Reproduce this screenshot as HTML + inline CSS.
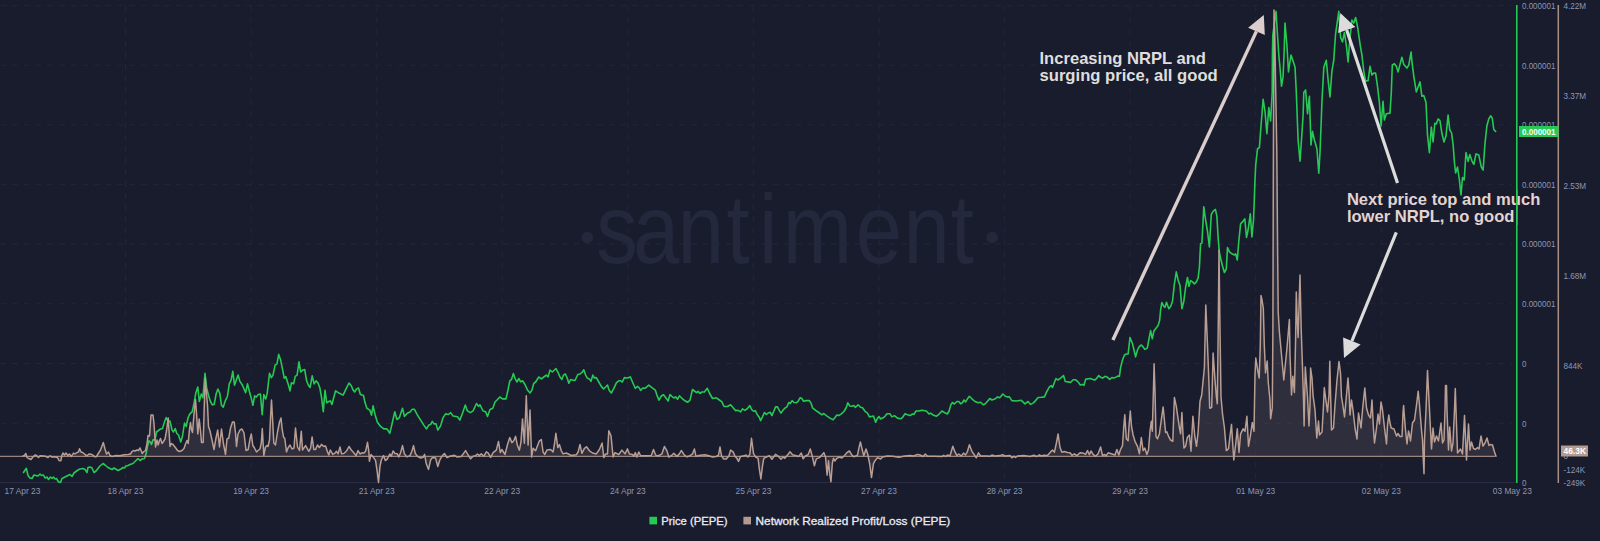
<!DOCTYPE html>
<html lang="en"><head><meta charset="utf-8"><title>Santiment chart - PEPE Price vs Network Realized Profit/Loss</title>
<style>html,body{margin:0;padding:0;background:#191c2d;overflow:hidden}body{width:1600px;height:541px}svg{display:block}text{font-family:"Liberation Sans",Arial,Helvetica,sans-serif}</style>
</head><body>
<svg width="1600" height="541" viewBox="0 0 1600 541">
<rect width="1600" height="541" fill="#191c2d"/>
<g fill="#24283d">
<circle cx="587.3" cy="237.5" r="5.8"/><circle cx="992.2" cy="237.5" r="5.8"/>
<text transform="scale(0.84 1)" x="709.9 753.5 806.9 864.9 903.5 931.9 1018.7 1075.6 1131.9" y="263.4" font-size="99">santiment</text>
</g>
<g stroke="#22263a" stroke-width="1" stroke-dasharray="5.7 6" fill="none">
<line x1="0.5" y1="5.6" x2="1512" y2="5.6"/>
<line x1="0.5" y1="65.2" x2="1512" y2="65.2"/>
<line x1="0.5" y1="124.8" x2="1512" y2="124.8"/>
<line x1="0.5" y1="184.4" x2="1512" y2="184.4"/>
<line x1="0.5" y1="244.0" x2="1512" y2="244.0"/>
<line x1="0.5" y1="303.8" x2="1512" y2="303.8"/>
<line x1="0.5" y1="363.5" x2="1512" y2="363.5"/>
<line x1="0.5" y1="423.3" x2="1512" y2="423.3"/>
<line x1="125.5" y1="5.6" x2="125.5" y2="482.6"/>
<line x1="251.1" y1="5.6" x2="251.1" y2="482.6"/>
<line x1="376.7" y1="5.6" x2="376.7" y2="482.6"/>
<line x1="502.2" y1="5.6" x2="502.2" y2="482.6"/>
<line x1="627.8" y1="5.6" x2="627.8" y2="482.6"/>
<line x1="753.4" y1="5.6" x2="753.4" y2="482.6"/>
<line x1="879.0" y1="5.6" x2="879.0" y2="482.6"/>
<line x1="1004.6" y1="5.6" x2="1004.6" y2="482.6"/>
<line x1="1130.1" y1="5.6" x2="1130.1" y2="482.6"/>
<line x1="1255.7" y1="5.6" x2="1255.7" y2="482.6"/>
<line x1="1381.3" y1="5.6" x2="1381.3" y2="482.6"/>
</g>
<line x1="0" y1="482.6" x2="1517" y2="482.6" stroke="#2a2e44" stroke-width="1"/>
<polyline points="23.5,472.5 26.3,468.3 28.0,475.5 30.0,478.0 32.0,478.5 34.0,475.0 36.0,475.5 38.0,476.0 40.0,474.0 41.5,475.5 43.5,475.0 45.0,478.0 47.0,477.0 48.5,479.5 50.5,477.0 52.0,478.5 53.5,477.0 55.0,479.0 56.5,478.5 58.5,482.0 60.5,482.5 62.0,478.5 64.0,477.5 68.0,475.5 70.0,474.5 72.0,476.5 74.0,473.0 78.0,470.0 80.0,469.0 83.0,468.5 85.0,469.5 87.0,472.5 88.0,467.5 90.0,467.0 92.0,468.0 94.0,472.5 96.0,471.0 100.0,466.0 103.0,463.5 105.0,465.0 108.0,467.5 112.0,469.5 114.0,468.0 118.0,470.5 121.0,469.0 123.0,467.5 124.5,468.0 126.0,466.0 128.0,465.5 130.0,464.5 133.0,463.5 136.0,460.5 138.0,458.5 140.0,460.5 142.0,459.0 144.5,458.5 146.0,454.0 147.5,446.0 149.0,440.8 150.5,442.3 151.5,444.5 153.0,439.8 155.0,440.0 156.5,432.0 158.5,430.5 160.5,429.0 162.5,428.5 164.5,422.0 166.2,417.5 168.0,421.5 170.0,421.0 172.0,430.0 173.5,432.0 175.2,428.5 176.8,433.5 178.5,435.0 180.8,442.0 182.5,436.0 184.5,423.0 186.2,426.5 188.0,418.0 189.7,414.1 192.2,411.6 194.1,402.8 195.9,392.7 197.8,387.1 199.3,401.5 201.3,394.0 202.9,397.8 205.0,373.3 206.6,387.7 208.5,395.3 210.4,401.5 212.3,404.9 214.2,404.3 216.1,394.0 217.9,389.0 219.8,393.4 221.5,405.3 223.2,407.2 225.5,400.3 227.4,396.5 229.3,383.9 231.1,380.2 232.8,371.4 234.5,385.2 236.2,380.2 238.1,375.1 239.9,381.4 242.5,385.2 245.6,392.7 247.5,383.9 249.4,391.5 251.3,398.4 252.9,405.3 254.6,395.9 256.3,397.1 258.2,394.6 260.4,394.0 262.2,414.7 263.8,394.6 265.7,399.0 267.2,393.4 269.5,373.3 271.4,377.7 273.0,375.1 275.1,365.1 277.0,363.8 278.7,354.4 280.5,359.4 282.7,370.1 284.3,378.3 285.8,376.6 288.1,383.9 290.0,390.9 291.5,382.7 293.6,383.9 295.2,376.4 297.1,375.1 299.0,361.9 300.7,372.0 302.8,370.1 304.7,369.5 306.6,380.8 308.4,385.2 310.1,387.5 312.2,375.8 314.1,383.9 316.0,380.8 317.9,382.9 319.8,387.7 321.6,397.8 323.3,411.6 325.0,390.2 326.7,402.8 328.6,401.5 330.4,400.9 331.9,404.5 335.6,390.8 339.4,393.3 343.1,395.1 346.3,388.3 349.0,383.0 351.3,385.8 352.8,389.5 354.6,392.0 356.6,388.9 358.5,388.0 360.4,394.5 363.5,395.5 365.0,402.6 366.9,408.3 369.8,410.1 371.5,415.1 373.1,405.8 375.0,414.5 377.3,422.0 380.0,425.8 383.8,428.9 386.9,428.9 389.8,433.3 391.9,424.5 394.8,411.8 396.9,419.5 399.4,417.6 402.5,408.3 404.4,416.4 407.3,413.3 410.0,412.0 412.3,409.3 414.4,409.3 417.5,415.1 420.6,420.1 423.8,425.1 426.5,428.9 428.8,425.1 430.6,424.5 432.3,421.4 434.0,423.9 436.0,423.9 437.8,430.1 440.6,425.8 443.1,417.6 445.6,413.9 448.5,414.5 450.6,412.6 453.1,416.0 457.5,416.8 459.8,420.1 462.5,413.3 465.3,405.1 467.3,410.8 470.3,412.6 473.1,410.8 476.5,403.5 478.5,406.4 480.0,404.8 483.1,411.0 485.6,411.8 487.5,416.4 490.0,409.5 492.8,408.3 495.0,402.0 497.5,399.5 499.8,397.0 502.5,398.9 506.0,398.9 508.1,389.5 509.8,380.8 511.5,379.5 513.4,373.5 515.0,378.3 516.9,382.0 518.8,378.5 520.6,381.8 522.5,380.8 525.0,384.5 527.5,390.1 530.0,393.0 531.9,390.1 533.8,383.3 535.6,382.0 538.8,377.0 541.3,378.9 543.8,377.0 546.3,375.1 548.1,376.8 550.0,370.1 552.3,372.0 556.0,368.5 558.1,372.6 560.0,377.0 561.9,379.5 563.5,375.1 565.3,373.9 567.3,378.3 568.8,383.3 570.6,379.5 572.5,380.1 575.0,380.5 577.8,374.5 580.0,373.9 581.9,372.6 583.8,369.8 585.6,375.1 587.5,378.3 589.4,378.9 591.0,381.4 592.8,375.1 594.4,378.0 596.3,377.6 598.8,382.0 601.3,386.4 603.5,388.9 605.6,387.0 607.5,385.1 609.0,390.1 611.3,393.0 613.8,388.3 616.5,382.6 618.8,380.8 620.6,380.8 622.3,382.0 624.4,377.6 626.9,378.0 628.8,377.6 630.3,376.8 632.5,382.0 635.3,388.3 637.5,386.4 639.4,388.0 640.6,390.5 642.8,388.0 645.0,388.3 648.8,385.1 651.9,387.6 655.3,390.1 656.9,395.1 659.0,400.1 661.3,396.0 663.5,394.8 665.6,397.6 668.1,401.0 670.0,394.5 671.9,396.4 673.8,398.0 675.6,396.8 677.5,399.3 679.4,395.8 681.9,398.3 685.0,400.8 687.5,402.3 690.0,400.1 692.5,389.5 694.4,391.0 696.5,392.6 698.1,391.4 700.0,393.5 701.9,392.0 704.4,392.0 707.3,388.3 709.4,393.0 712.5,398.5 716.3,397.8 719.4,400.0 721.9,401.9 724.0,406.5 727.5,406.5 730.6,404.8 733.1,407.8 735.6,410.6 738.1,410.3 740.6,411.9 742.5,408.8 744.8,410.3 747.5,408.5 749.8,405.6 751.9,409.8 753.8,411.3 755.3,410.6 757.5,415.0 759.4,417.5 760.6,420.6 762.5,416.9 764.4,412.5 766.3,414.4 768.1,413.1 770.3,412.3 771.9,415.6 773.8,411.3 775.6,406.9 777.5,406.9 779.4,410.6 781.0,413.1 783.1,410.0 785.0,408.1 786.9,406.9 788.8,402.5 790.3,403.5 792.1,400.6 794.0,402.5 796.3,402.8 798.1,401.3 800.0,397.8 801.9,398.5 803.5,401.3 806.3,400.6 809.4,400.6 811.0,403.1 812.5,407.8 815.6,410.3 818.8,412.5 821.9,414.8 823.8,413.5 826.3,415.6 830.0,418.1 833.1,419.8 835.0,417.5 836.9,415.0 838.8,415.6 841.3,413.8 844.0,411.5 846.3,407.5 847.8,402.8 849.8,406.0 851.9,406.3 853.8,405.6 855.3,407.3 858.1,404.8 860.6,407.3 862.5,407.8 865.0,411.3 867.5,413.1 869.4,416.9 871.3,416.5 873.5,416.0 875.6,422.3 877.5,418.1 879.0,416.5 880.6,419.0 883.1,417.8 885.0,416.3 886.9,413.8 890.0,413.8 891.9,416.9 894.4,415.6 897.5,418.1 900.6,418.8 902.5,417.5 905.0,413.8 907.5,414.8 910.0,415.6 912.5,414.0 914.0,414.4 916.0,411.0 918.8,411.0 921.9,410.3 926.3,411.0 929.0,414.0 930.6,413.1 933.1,415.0 936.3,416.3 939.4,413.8 941.9,411.0 944.4,412.5 947.3,414.0 949.0,411.3 951.0,404.4 952.5,402.5 954.4,404.0 956.9,401.5 958.8,401.5 960.6,403.8 962.5,402.5 964.0,400.0 965.6,401.9 967.5,398.8 969.4,396.3 971.9,398.8 975.0,401.5 978.1,402.8 980.6,402.3 983.1,404.8 985.0,404.0 987.5,401.3 989.8,398.5 991.9,400.0 995.0,399.0 997.5,396.9 999.4,397.8 1001.0,396.3 1002.8,394.0 1005.0,396.0 1006.9,396.9 1009.4,396.9 1011.9,400.6 1016.3,401.0 1021.3,400.3 1025.0,403.8 1028.1,401.5 1030.6,404.4 1033.1,403.1 1035.6,400.6 1038.1,397.5 1041.3,397.3 1044.4,396.9 1046.9,391.3 1049.4,386.9 1051.3,385.6 1052.5,387.5 1054.4,382.5 1056.0,378.5 1057.8,380.0 1060.6,378.1 1063.5,375.6 1065.3,381.5 1068.1,381.9 1070.6,382.5 1073.1,379.8 1075.6,379.8 1078.1,381.9 1080.3,385.0 1082.3,384.4 1084.0,385.3 1085.6,379.4 1088.1,378.8 1090.6,378.5 1092.5,379.4 1095.0,380.0 1096.9,378.1 1098.8,375.6 1100.6,377.3 1102.5,378.1 1105.0,376.3 1107.5,377.3 1109.8,379.4 1111.9,377.5 1113.8,378.1 1116.3,376.9 1118.1,376.0 1119.4,376.3 1120.6,367.5 1122.3,360.6 1124.4,355.0 1126.3,354.0 1128.1,354.0 1130.0,337.5 1132.5,343.8 1134.0,350.0 1135.6,356.9 1137.5,350.0 1139.4,346.3 1141.3,345.0 1143.1,346.9 1145.0,349.4 1147.3,348.1 1148.8,340.0 1150.6,330.6 1152.3,338.8 1153.8,331.3 1155.6,328.8 1158.1,325.6 1159.6,320.6 1160.6,310.0 1161.9,302.5 1163.8,306.3 1165.0,307.3 1166.5,302.3 1168.8,308.8 1170.6,306.5 1172.5,301.3 1174.4,283.8 1176.3,271.9 1178.1,280.0 1180.0,285.6 1181.9,308.8 1183.8,301.3 1185.6,287.5 1187.5,277.5 1189.0,286.3 1190.6,280.6 1192.5,281.9 1194.4,284.0 1196.3,281.9 1198.1,278.1 1199.4,267.5 1200.0,255.0 1200.6,243.8 1201.9,243.1 1203.8,206.9 1205.6,220.0 1207.5,231.3 1209.4,246.9 1211.3,214.4 1213.1,211.3 1215.4,209.4 1216.9,216.3 1218.1,237.5 1219.4,252.5 1220.8,259.0 1222.5,266.0 1224.4,272.5 1226.3,269.0 1227.5,247.5 1229.4,251.9 1231.9,253.8 1234.4,255.0 1235.6,253.8 1237.3,260.0 1238.8,241.3 1240.6,223.8 1242.5,221.9 1244.8,218.8 1246.5,237.5 1248.1,230.0 1250.3,213.8 1251.9,236.9 1253.5,220.0 1254.3,200.0 1254.9,182.0 1255.7,165.0 1257.5,148.8 1259.4,147.5 1260.6,131.3 1261.9,115.0 1263.1,99.4 1265.0,111.3 1266.9,133.8 1268.8,107.5 1270.6,121.0 1272.2,92.5 1272.4,55.0 1272.8,35.0 1276.0,11.3 1277.5,35.0 1278.8,55.0 1280.0,67.5 1281.5,86.3 1283.1,76.3 1284.2,50.0 1285.0,23.1 1286.9,45.0 1288.5,72.0 1289.6,64.0 1291.0,55.0 1293.1,61.3 1295.0,66.9 1296.3,92.5 1298.1,140.0 1300.0,161.3 1301.9,133.8 1303.1,115.0 1303.8,92.5 1305.6,90.0 1307.5,113.8 1309.4,96.3 1311.0,145.0 1312.5,131.3 1314.4,140.0 1316.9,148.8 1318.8,173.1 1320.0,152.5 1321.2,122.0 1321.9,102.5 1323.8,67.5 1326.3,60.3 1328.1,80.0 1330.0,96.9 1331.9,71.3 1333.8,60.0 1334.6,47.5 1335.6,33.8 1338.8,11.3 1340.6,37.5 1342.5,41.9 1344.4,32.5 1346.3,45.0 1348.1,61.9 1350.0,37.5 1351.9,20.0 1353.8,23.1 1355.6,17.5 1357.5,26.3 1360.0,43.8 1361.9,55.0 1363.8,71.3 1365.6,81.3 1368.1,80.6 1370.0,66.3 1371.9,75.0 1373.8,73.1 1375.6,73.1 1377.5,86.3 1379.4,102.5 1381.1,126.0 1383.0,101.3 1384.4,120.0 1386.3,113.8 1390.0,113.1 1391.3,92.5 1392.3,65.0 1394.4,63.8 1396.3,66.3 1398.1,71.9 1400.0,64.4 1401.9,57.2 1403.8,64.4 1406.9,68.1 1408.8,65.0 1411.1,52.0 1411.9,61.3 1413.8,76.3 1416.3,91.9 1418.1,86.9 1420.0,81.9 1421.9,96.3 1423.8,95.6 1426.0,102.5 1427.5,135.0 1429.4,152.6 1431.3,127.0 1433.1,142.0 1434.8,123.3 1436.3,123.9 1438.1,118.9 1440.0,120.8 1441.9,133.3 1444.0,142.0 1446.0,135.8 1448.1,115.1 1449.8,130.1 1451.5,132.6 1453.1,144.5 1454.4,162.0 1455.6,173.0 1457.5,167.0 1459.4,180.0 1461.0,195.0 1462.5,177.5 1464.2,180.0 1465.2,164.5 1466.0,152.6 1468.1,161.4 1469.8,154.5 1471.9,160.8 1473.8,164.5 1476.0,153.9 1478.8,155.1 1481.3,167.0 1483.1,170.1 1485.0,143.3 1486.9,125.8 1488.8,118.9 1490.6,115.8 1492.3,118.3 1493.8,129.5 1495.6,131.4" fill="none" stroke="#26c953" stroke-width="1.6" stroke-linejoin="round" stroke-linecap="round"/>
<polygon points="23.0,456.3 23.0,456.0 24.5,455.5 25.8,453.5 27.0,457.5 28.5,458.5 30.0,459.0 31.0,459.5 33.0,457.0 35.0,455.0 36.5,455.5 38.5,457.5 40.0,455.8 44.0,456.0 46.0,456.5 48.0,457.5 50.0,455.8 52.0,457.0 55.0,456.8 57.5,457.5 59.0,460.5 60.8,460.8 62.0,455.0 63.0,453.0 64.5,455.0 66.0,453.0 68.0,455.5 69.5,454.0 71.5,456.5 73.5,453.0 75.0,454.0 77.0,452.5 78.5,452.0 79.5,448.8 81.0,452.0 83.0,452.8 85.0,454.5 87.0,455.8 89.0,454.0 92.0,454.5 95.0,456.8 96.5,456.5 98.0,454.0 100.5,450.0 103.3,442.5 105.0,449.0 106.5,454.0 108.5,452.0 110.0,455.5 112.0,456.5 116.0,455.5 120.0,455.8 124.0,454.8 128.0,454.5 130.5,454.0 132.0,451.5 133.5,450.5 135.0,451.0 137.0,450.0 138.5,450.5 140.0,448.0 141.5,451.5 142.2,453.5 144.0,451.5 145.5,450.5 147.0,444.0 148.0,435.5 149.5,436.0 151.0,415.0 153.0,415.0 154.0,424.0 155.5,447.0 157.0,440.0 158.2,445.0 159.5,440.5 160.5,438.5 162.0,443.5 163.5,441.5 165.0,439.0 166.5,431.0 168.2,418.0 169.2,434.0 170.0,446.5 171.2,443.5 173.0,444.5 175.0,447.0 177.5,450.5 179.5,451.5 182.0,450.5 184.0,448.5 185.5,444.0 187.0,440.5 188.2,443.5 189.5,429.0 190.5,422.5 191.5,430.0 192.5,432.5 194.0,414.0 195.5,399.5 196.5,413.0 197.8,434.0 199.2,419.0 200.5,431.0 201.5,442.5 203.2,442.5 204.3,405.0 205.2,378.0 206.3,392.0 207.5,405.0 208.5,426.5 210.0,431.0 212.0,440.0 214.0,449.5 216.0,438.0 217.7,430.0 219.5,447.0 221.5,429.0 223.5,444.0 225.5,454.5 227.0,439.0 228.8,438.0 230.5,428.0 232.5,422.0 234.2,422.0 235.5,433.0 236.5,446.5 238.0,434.0 240.0,430.0 242.0,429.0 244.0,433.0 246.0,450.5 248.2,449.5 250.0,439.0 251.3,434.0 252.8,445.5 254.5,448.0 256.5,452.0 258.0,450.5 260.0,449.0 261.3,443.0 262.3,428.5 263.8,455.5 265.5,447.0 267.0,445.5 268.0,446.5 269.5,440.0 270.5,418.0 271.5,400.0 272.5,418.0 273.8,443.0 275.5,445.0 277.5,432.0 279.5,422.0 281.0,418.0 282.0,428.0 283.5,437.0 284.8,438.5 286.5,452.0 288.0,448.0 290.0,445.0 292.0,449.0 294.0,448.0 295.5,428.0 297.5,447.0 299.5,450.5 301.3,431.3 302.5,450.0 305.6,445.6 308.8,451.3 310.6,448.1 312.1,436.9 313.8,449.4 315.6,449.4 317.5,445.0 319.4,447.5 321.5,444.4 323.5,446.3 325.6,446.0 327.5,451.9 328.8,455.0 330.3,450.0 332.8,454.4 335.0,453.1 336.5,451.3 338.1,453.8 340.0,446.9 341.6,453.8 343.8,453.5 346.3,451.3 349.0,446.5 351.3,450.0 353.8,452.8 356.0,455.6 358.1,450.6 360.0,454.0 361.9,452.8 363.8,453.1 365.6,451.3 367.5,442.3 368.8,451.3 369.4,461.3 371.0,454.4 373.1,456.9 375.6,460.6 377.3,472.5 378.5,482.5 380.0,466.3 381.3,460.0 383.5,455.6 385.3,460.6 387.5,458.8 389.8,454.0 391.3,456.3 393.1,451.0 395.0,453.5 397.3,453.8 398.8,456.9 400.6,452.8 402.5,445.6 404.4,453.8 406.9,456.9 410.0,455.6 411.9,451.3 413.5,445.6 415.3,453.5 417.5,456.3 420.6,458.1 423.1,457.3 424.6,454.4 426.3,463.8 428.5,469.4 430.6,460.0 432.5,457.5 435.6,458.1 437.8,466.5 439.8,460.0 441.9,456.3 444.4,453.5 446.9,457.5 450.0,456.3 454.4,455.3 456.9,456.9 461.3,456.5 463.8,453.1 465.6,450.6 468.1,455.0 470.6,458.8 473.1,456.3 475.6,455.6 477.5,454.0 479.4,455.6 481.3,453.8 483.8,456.3 486.3,451.9 488.1,452.8 490.6,457.3 493.1,452.6 496.3,450.1 498.5,441.4 500.3,452.6 501.9,449.5 505.0,454.5 507.5,444.5 509.8,437.6 511.9,442.6 513.8,440.8 515.6,436.4 517.5,445.8 519.4,450.1 521.0,442.0 522.5,418.9 524.4,443.3 526.3,395.8 528.1,445.1 530.0,410.1 531.6,457.0 533.1,448.3 535.6,450.8 537.5,445.8 539.4,440.8 541.3,439.5 543.1,452.0 544.8,454.5 546.9,450.1 550.6,449.5 553.1,452.0 554.4,444.5 555.9,433.3 557.8,447.6 559.4,444.5 561.3,450.8 563.1,453.9 566.3,453.0 569.4,454.5 571.3,455.5 576.3,454.8 578.1,452.0 580.0,444.5 581.9,453.3 584.4,448.3 586.5,446.8 589.4,450.8 592.5,453.0 596.3,453.9 599.4,449.5 602.1,443.0 603.8,457.6 605.6,453.9 607.5,453.9 608.8,430.8 611.0,435.8 613.1,457.0 615.0,452.6 618.8,454.5 621.9,450.1 625.0,453.9 627.5,448.9 629.4,453.9 632.5,454.5 633.8,456.4 635.3,452.6 636.9,457.0 638.8,452.0 640.6,455.8 645.0,455.8 651.3,455.5 653.5,449.5 655.6,455.1 658.1,456.0 661.9,453.9 664.4,446.4 666.9,450.8 668.8,457.0 671.3,455.8 673.8,453.3 676.9,456.4 679.4,453.9 681.3,450.5 684.4,455.1 686.9,456.8 690.0,455.6 692.5,453.9 694.4,448.9 696.0,456.4 698.8,455.5 702.5,455.1 705.0,454.8 708.8,455.8 712.5,457.0 716.3,456.4 718.5,455.1 720.0,447.0 721.5,455.8 723.5,458.9 726.3,458.9 729.0,455.8 730.6,450.1 733.1,451.8 735.0,456.4 736.9,458.3 738.5,461.4 740.6,456.4 743.8,455.8 746.0,455.1 747.8,457.0 749.8,454.5 751.5,438.3 753.5,453.3 755.6,457.0 758.1,458.3 759.4,469.5 760.9,478.9 762.5,465.8 763.8,458.3 766.3,457.0 769.4,455.8 771.9,459.3 775.6,454.3 778.1,456.0 781.0,459.3 783.1,457.0 784.8,458.3 787.5,455.1 790.0,451.8 792.5,454.8 796.3,455.8 798.8,456.4 801.3,453.0 803.1,458.9 805.6,455.8 808.1,454.8 810.3,448.9 812.3,456.4 814.4,465.8 816.3,458.9 819.4,457.6 821.9,455.1 823.8,452.6 825.6,457.6 827.1,475.1 828.5,460.8 829.8,474.5 831.0,481.8 832.3,463.3 833.5,458.3 834.8,461.0 836.9,458.3 839.4,457.0 841.9,458.0 844.4,455.8 846.9,452.6 849.4,451.0 851.9,455.1 853.8,456.8 857.5,455.1 859.0,447.6 860.4,442.0 862.3,450.1 863.8,455.8 866.0,448.9 867.8,454.5 869.8,464.5 871.5,477.6 873.5,463.3 875.0,460.8 877.5,457.6 880.6,459.0 882.5,456.9 887.5,456.0 892.5,456.3 898.8,457.3 905.0,456.0 910.0,455.6 913.8,456.0 917.5,454.4 920.0,455.0 923.1,456.5 925.3,454.0 927.5,456.3 933.8,456.3 941.9,456.5 943.8,455.3 945.6,456.5 947.5,455.0 950.0,456.0 952.8,446.3 955.0,451.9 956.9,455.6 958.8,454.0 961.3,456.0 963.5,453.1 965.6,455.0 967.5,451.3 969.4,444.8 971.9,451.3 974.4,455.0 976.3,457.8 978.5,452.8 980.6,456.0 986.3,456.0 990.0,456.3 991.9,455.0 995.0,456.0 1000.0,455.6 1002.5,454.8 1005.0,456.0 1010.0,455.6 1011.9,457.8 1013.8,456.3 1015.6,457.5 1017.5,456.0 1023.8,455.6 1030.0,456.5 1033.8,455.3 1036.9,456.5 1039.4,454.8 1041.3,456.0 1043.8,455.3 1047.5,455.6 1050.6,451.9 1052.5,450.0 1054.4,452.3 1056.5,442.5 1058.1,434.0 1060.0,447.5 1061.9,452.3 1064.4,451.5 1067.5,452.5 1070.0,452.8 1071.9,455.3 1074.4,453.8 1076.9,455.6 1080.0,452.8 1083.1,453.1 1085.6,454.4 1087.5,450.6 1089.4,454.8 1091.0,451.0 1093.1,454.4 1095.6,456.3 1098.1,453.8 1100.6,446.9 1102.5,455.6 1104.4,454.4 1106.0,456.0 1108.1,452.8 1111.3,453.8 1115.0,455.0 1116.9,449.4 1118.8,455.0 1120.3,450.0 1122.5,445.6 1123.8,426.3 1124.8,414.8 1126.3,438.8 1128.1,440.6 1129.1,425.0 1130.3,411.0 1131.5,426.3 1133.1,435.0 1135.0,441.3 1137.5,446.3 1139.4,453.8 1141.3,437.5 1143.1,450.6 1144.8,448.1 1146.9,454.4 1148.5,450.0 1150.0,431.3 1151.3,421.3 1152.3,431.3 1153.3,395.0 1154.1,363.8 1155.1,395.0 1156.0,436.3 1157.5,438.8 1159.4,433.8 1161.3,420.0 1163.1,406.9 1164.4,420.0 1165.6,432.5 1166.9,431.9 1168.8,436.9 1170.6,440.0 1172.8,441.3 1174.4,397.5 1176.3,406.3 1178.1,418.8 1179.6,428.8 1180.6,433.8 1181.9,412.5 1183.1,436.3 1184.0,448.1 1185.6,446.3 1187.3,437.5 1189.4,435.0 1191.0,451.3 1192.9,416.3 1194.8,436.3 1196.5,446.3 1198.1,432.5 1200.0,401.3 1201.7,395.0 1204.4,367.5 1205.8,305.0 1207.5,345.0 1209.0,385.0 1209.7,408.3 1211.7,407.5 1213.1,353.1 1215.0,380.0 1216.4,397.0 1217.3,403.8 1218.2,330.0 1219.0,250.0 1220.0,330.0 1221.0,397.0 1222.5,413.8 1224.4,427.5 1226.3,450.6 1228.5,448.8 1230.0,436.3 1231.5,424.4 1232.8,445.0 1233.8,460.0 1235.6,445.0 1237.3,428.8 1239.0,452.5 1240.6,433.8 1243.1,428.8 1245.0,431.3 1246.9,416.3 1248.5,446.3 1250.3,436.3 1252.3,422.5 1254.0,431.3 1255.0,375.0 1255.8,358.0 1257.5,369.0 1259.2,378.0 1260.3,345.0 1261.0,295.6 1262.0,300.0 1263.3,308.0 1264.3,345.0 1265.5,373.0 1267.2,361.0 1268.3,383.0 1270.0,400.0 1270.6,418.8 1272.3,407.5 1272.9,330.0 1273.4,150.0 1274.0,10.0 1274.7,30.0 1275.7,90.0 1276.8,150.0 1277.6,250.0 1278.2,312.0 1279.4,332.0 1280.6,345.0 1283.8,380.0 1286.9,348.8 1289.4,319.4 1290.0,355.0 1291.5,395.0 1292.8,376.3 1294.4,392.5 1295.6,340.0 1296.3,291.9 1297.2,320.0 1298.1,337.5 1299.2,300.0 1300.0,275.0 1301.2,330.0 1302.5,367.5 1303.5,400.0 1304.1,426.0 1305.3,366.9 1307.5,397.0 1309.0,426.0 1310.0,405.0 1310.6,368.0 1312.0,378.0 1313.0,395.0 1315.0,410.0 1316.8,438.0 1318.5,421.0 1319.5,435.0 1322.0,432.0 1323.5,405.0 1324.3,387.5 1326.0,401.0 1327.5,412.0 1329.0,395.0 1329.8,361.3 1330.6,395.0 1331.5,430.0 1333.5,428.0 1335.0,405.0 1337.0,380.0 1339.0,361.5 1340.5,373.0 1341.5,397.0 1342.5,403.0 1344.5,417.0 1346.5,395.0 1348.0,378.0 1349.2,395.0 1350.0,415.0 1351.5,400.0 1353.0,410.0 1355.0,428.0 1357.0,439.0 1358.5,413.0 1359.5,419.0 1361.0,428.0 1362.5,410.0 1364.8,388.0 1366.5,408.0 1368.5,415.0 1370.5,418.0 1372.0,400.0 1373.5,430.0 1374.5,443.0 1376.5,428.0 1378.0,414.0 1379.5,424.0 1381.0,402.0 1382.5,410.0 1384.5,428.0 1386.5,444.0 1387.5,425.0 1388.8,415.0 1390.0,423.0 1391.2,428.0 1394.0,429.0 1396.5,436.0 1398.0,433.5 1400.0,436.5 1402.0,436.5 1403.0,413.0 1403.6,405.5 1404.3,415.0 1405.5,430.0 1407.0,444.0 1408.5,431.0 1409.5,435.0 1410.5,441.0 1412.5,423.0 1414.5,420.0 1416.5,405.0 1418.2,391.2 1419.5,405.0 1421.5,430.0 1422.5,440.0 1423.5,464.0 1424.0,473.8 1424.5,440.0 1426.0,410.0 1427.5,370.5 1429.5,410.0 1430.5,430.0 1431.5,449.0 1433.0,428.0 1434.5,442.0 1436.5,436.0 1438.5,441.0 1440.0,430.0 1441.0,423.0 1442.5,443.0 1444.0,440.0 1445.0,410.0 1445.5,385.5 1446.5,385.5 1447.0,410.0 1448.5,450.0 1449.7,427.0 1451.5,451.0 1453.0,443.0 1454.5,410.0 1455.3,388.5 1456.0,410.0 1457.5,453.0 1460.5,449.0 1462.5,454.0 1464.5,415.5 1466.5,460.0 1468.5,424.0 1470.0,450.0 1471.5,442.0 1473.5,448.5 1475.5,449.5 1477.5,447.5 1479.0,449.0 1481.0,436.0 1483.0,446.0 1485.0,443.0 1487.0,438.0 1489.0,445.5 1490.5,444.5 1492.5,445.0 1494.5,452.0 1496.0,456.2 1496.0,456.3" fill="#c9ada1" fill-opacity="0.13"/>
<line x1="0" y1="456.3" x2="1495" y2="456.3" stroke="#b99e93" stroke-width="1"/>
<polyline points="23.0,456.0 24.5,455.5 25.8,453.5 27.0,457.5 28.5,458.5 30.0,459.0 31.0,459.5 33.0,457.0 35.0,455.0 36.5,455.5 38.5,457.5 40.0,455.8 44.0,456.0 46.0,456.5 48.0,457.5 50.0,455.8 52.0,457.0 55.0,456.8 57.5,457.5 59.0,460.5 60.8,460.8 62.0,455.0 63.0,453.0 64.5,455.0 66.0,453.0 68.0,455.5 69.5,454.0 71.5,456.5 73.5,453.0 75.0,454.0 77.0,452.5 78.5,452.0 79.5,448.8 81.0,452.0 83.0,452.8 85.0,454.5 87.0,455.8 89.0,454.0 92.0,454.5 95.0,456.8 96.5,456.5 98.0,454.0 100.5,450.0 103.3,442.5 105.0,449.0 106.5,454.0 108.5,452.0 110.0,455.5 112.0,456.5 116.0,455.5 120.0,455.8 124.0,454.8 128.0,454.5 130.5,454.0 132.0,451.5 133.5,450.5 135.0,451.0 137.0,450.0 138.5,450.5 140.0,448.0 141.5,451.5 142.2,453.5 144.0,451.5 145.5,450.5 147.0,444.0 148.0,435.5 149.5,436.0 151.0,415.0 153.0,415.0 154.0,424.0 155.5,447.0 157.0,440.0 158.2,445.0 159.5,440.5 160.5,438.5 162.0,443.5 163.5,441.5 165.0,439.0 166.5,431.0 168.2,418.0 169.2,434.0 170.0,446.5 171.2,443.5 173.0,444.5 175.0,447.0 177.5,450.5 179.5,451.5 182.0,450.5 184.0,448.5 185.5,444.0 187.0,440.5 188.2,443.5 189.5,429.0 190.5,422.5 191.5,430.0 192.5,432.5 194.0,414.0 195.5,399.5 196.5,413.0 197.8,434.0 199.2,419.0 200.5,431.0 201.5,442.5 203.2,442.5 204.3,405.0 205.2,378.0 206.3,392.0 207.5,405.0 208.5,426.5 210.0,431.0 212.0,440.0 214.0,449.5 216.0,438.0 217.7,430.0 219.5,447.0 221.5,429.0 223.5,444.0 225.5,454.5 227.0,439.0 228.8,438.0 230.5,428.0 232.5,422.0 234.2,422.0 235.5,433.0 236.5,446.5 238.0,434.0 240.0,430.0 242.0,429.0 244.0,433.0 246.0,450.5 248.2,449.5 250.0,439.0 251.3,434.0 252.8,445.5 254.5,448.0 256.5,452.0 258.0,450.5 260.0,449.0 261.3,443.0 262.3,428.5 263.8,455.5 265.5,447.0 267.0,445.5 268.0,446.5 269.5,440.0 270.5,418.0 271.5,400.0 272.5,418.0 273.8,443.0 275.5,445.0 277.5,432.0 279.5,422.0 281.0,418.0 282.0,428.0 283.5,437.0 284.8,438.5 286.5,452.0 288.0,448.0 290.0,445.0 292.0,449.0 294.0,448.0 295.5,428.0 297.5,447.0 299.5,450.5 301.3,431.3 302.5,450.0 305.6,445.6 308.8,451.3 310.6,448.1 312.1,436.9 313.8,449.4 315.6,449.4 317.5,445.0 319.4,447.5 321.5,444.4 323.5,446.3 325.6,446.0 327.5,451.9 328.8,455.0 330.3,450.0 332.8,454.4 335.0,453.1 336.5,451.3 338.1,453.8 340.0,446.9 341.6,453.8 343.8,453.5 346.3,451.3 349.0,446.5 351.3,450.0 353.8,452.8 356.0,455.6 358.1,450.6 360.0,454.0 361.9,452.8 363.8,453.1 365.6,451.3 367.5,442.3 368.8,451.3 369.4,461.3 371.0,454.4 373.1,456.9 375.6,460.6 377.3,472.5 378.5,482.5 380.0,466.3 381.3,460.0 383.5,455.6 385.3,460.6 387.5,458.8 389.8,454.0 391.3,456.3 393.1,451.0 395.0,453.5 397.3,453.8 398.8,456.9 400.6,452.8 402.5,445.6 404.4,453.8 406.9,456.9 410.0,455.6 411.9,451.3 413.5,445.6 415.3,453.5 417.5,456.3 420.6,458.1 423.1,457.3 424.6,454.4 426.3,463.8 428.5,469.4 430.6,460.0 432.5,457.5 435.6,458.1 437.8,466.5 439.8,460.0 441.9,456.3 444.4,453.5 446.9,457.5 450.0,456.3 454.4,455.3 456.9,456.9 461.3,456.5 463.8,453.1 465.6,450.6 468.1,455.0 470.6,458.8 473.1,456.3 475.6,455.6 477.5,454.0 479.4,455.6 481.3,453.8 483.8,456.3 486.3,451.9 488.1,452.8 490.6,457.3 493.1,452.6 496.3,450.1 498.5,441.4 500.3,452.6 501.9,449.5 505.0,454.5 507.5,444.5 509.8,437.6 511.9,442.6 513.8,440.8 515.6,436.4 517.5,445.8 519.4,450.1 521.0,442.0 522.5,418.9 524.4,443.3 526.3,395.8 528.1,445.1 530.0,410.1 531.6,457.0 533.1,448.3 535.6,450.8 537.5,445.8 539.4,440.8 541.3,439.5 543.1,452.0 544.8,454.5 546.9,450.1 550.6,449.5 553.1,452.0 554.4,444.5 555.9,433.3 557.8,447.6 559.4,444.5 561.3,450.8 563.1,453.9 566.3,453.0 569.4,454.5 571.3,455.5 576.3,454.8 578.1,452.0 580.0,444.5 581.9,453.3 584.4,448.3 586.5,446.8 589.4,450.8 592.5,453.0 596.3,453.9 599.4,449.5 602.1,443.0 603.8,457.6 605.6,453.9 607.5,453.9 608.8,430.8 611.0,435.8 613.1,457.0 615.0,452.6 618.8,454.5 621.9,450.1 625.0,453.9 627.5,448.9 629.4,453.9 632.5,454.5 633.8,456.4 635.3,452.6 636.9,457.0 638.8,452.0 640.6,455.8 645.0,455.8 651.3,455.5 653.5,449.5 655.6,455.1 658.1,456.0 661.9,453.9 664.4,446.4 666.9,450.8 668.8,457.0 671.3,455.8 673.8,453.3 676.9,456.4 679.4,453.9 681.3,450.5 684.4,455.1 686.9,456.8 690.0,455.6 692.5,453.9 694.4,448.9 696.0,456.4 698.8,455.5 702.5,455.1 705.0,454.8 708.8,455.8 712.5,457.0 716.3,456.4 718.5,455.1 720.0,447.0 721.5,455.8 723.5,458.9 726.3,458.9 729.0,455.8 730.6,450.1 733.1,451.8 735.0,456.4 736.9,458.3 738.5,461.4 740.6,456.4 743.8,455.8 746.0,455.1 747.8,457.0 749.8,454.5 751.5,438.3 753.5,453.3 755.6,457.0 758.1,458.3 759.4,469.5 760.9,478.9 762.5,465.8 763.8,458.3 766.3,457.0 769.4,455.8 771.9,459.3 775.6,454.3 778.1,456.0 781.0,459.3 783.1,457.0 784.8,458.3 787.5,455.1 790.0,451.8 792.5,454.8 796.3,455.8 798.8,456.4 801.3,453.0 803.1,458.9 805.6,455.8 808.1,454.8 810.3,448.9 812.3,456.4 814.4,465.8 816.3,458.9 819.4,457.6 821.9,455.1 823.8,452.6 825.6,457.6 827.1,475.1 828.5,460.8 829.8,474.5 831.0,481.8 832.3,463.3 833.5,458.3 834.8,461.0 836.9,458.3 839.4,457.0 841.9,458.0 844.4,455.8 846.9,452.6 849.4,451.0 851.9,455.1 853.8,456.8 857.5,455.1 859.0,447.6 860.4,442.0 862.3,450.1 863.8,455.8 866.0,448.9 867.8,454.5 869.8,464.5 871.5,477.6 873.5,463.3 875.0,460.8 877.5,457.6 880.6,459.0 882.5,456.9 887.5,456.0 892.5,456.3 898.8,457.3 905.0,456.0 910.0,455.6 913.8,456.0 917.5,454.4 920.0,455.0 923.1,456.5 925.3,454.0 927.5,456.3 933.8,456.3 941.9,456.5 943.8,455.3 945.6,456.5 947.5,455.0 950.0,456.0 952.8,446.3 955.0,451.9 956.9,455.6 958.8,454.0 961.3,456.0 963.5,453.1 965.6,455.0 967.5,451.3 969.4,444.8 971.9,451.3 974.4,455.0 976.3,457.8 978.5,452.8 980.6,456.0 986.3,456.0 990.0,456.3 991.9,455.0 995.0,456.0 1000.0,455.6 1002.5,454.8 1005.0,456.0 1010.0,455.6 1011.9,457.8 1013.8,456.3 1015.6,457.5 1017.5,456.0 1023.8,455.6 1030.0,456.5 1033.8,455.3 1036.9,456.5 1039.4,454.8 1041.3,456.0 1043.8,455.3 1047.5,455.6 1050.6,451.9 1052.5,450.0 1054.4,452.3 1056.5,442.5 1058.1,434.0 1060.0,447.5 1061.9,452.3 1064.4,451.5 1067.5,452.5 1070.0,452.8 1071.9,455.3 1074.4,453.8 1076.9,455.6 1080.0,452.8 1083.1,453.1 1085.6,454.4 1087.5,450.6 1089.4,454.8 1091.0,451.0 1093.1,454.4 1095.6,456.3 1098.1,453.8 1100.6,446.9 1102.5,455.6 1104.4,454.4 1106.0,456.0 1108.1,452.8 1111.3,453.8 1115.0,455.0 1116.9,449.4 1118.8,455.0 1120.3,450.0 1122.5,445.6 1123.8,426.3 1124.8,414.8 1126.3,438.8 1128.1,440.6 1129.1,425.0 1130.3,411.0 1131.5,426.3 1133.1,435.0 1135.0,441.3 1137.5,446.3 1139.4,453.8 1141.3,437.5 1143.1,450.6 1144.8,448.1 1146.9,454.4 1148.5,450.0 1150.0,431.3 1151.3,421.3 1152.3,431.3 1153.3,395.0 1154.1,363.8 1155.1,395.0 1156.0,436.3 1157.5,438.8 1159.4,433.8 1161.3,420.0 1163.1,406.9 1164.4,420.0 1165.6,432.5 1166.9,431.9 1168.8,436.9 1170.6,440.0 1172.8,441.3 1174.4,397.5 1176.3,406.3 1178.1,418.8 1179.6,428.8 1180.6,433.8 1181.9,412.5 1183.1,436.3 1184.0,448.1 1185.6,446.3 1187.3,437.5 1189.4,435.0 1191.0,451.3 1192.9,416.3 1194.8,436.3 1196.5,446.3 1198.1,432.5 1200.0,401.3 1201.7,395.0 1204.4,367.5 1205.8,305.0 1207.5,345.0 1209.0,385.0 1209.7,408.3 1211.7,407.5 1213.1,353.1 1215.0,380.0 1216.4,397.0 1217.3,403.8 1218.2,330.0 1219.0,250.0 1220.0,330.0 1221.0,397.0 1222.5,413.8 1224.4,427.5 1226.3,450.6 1228.5,448.8 1230.0,436.3 1231.5,424.4 1232.8,445.0 1233.8,460.0 1235.6,445.0 1237.3,428.8 1239.0,452.5 1240.6,433.8 1243.1,428.8 1245.0,431.3 1246.9,416.3 1248.5,446.3 1250.3,436.3 1252.3,422.5 1254.0,431.3 1255.0,375.0 1255.8,358.0 1257.5,369.0 1259.2,378.0 1260.3,345.0 1261.0,295.6 1262.0,300.0 1263.3,308.0 1264.3,345.0 1265.5,373.0 1267.2,361.0 1268.3,383.0 1270.0,400.0 1270.6,418.8 1272.3,407.5 1272.9,330.0 1273.4,150.0 1274.0,10.0 1274.7,30.0 1275.7,90.0 1276.8,150.0 1277.6,250.0 1278.2,312.0 1279.4,332.0 1280.6,345.0 1283.8,380.0 1286.9,348.8 1289.4,319.4 1290.0,355.0 1291.5,395.0 1292.8,376.3 1294.4,392.5 1295.6,340.0 1296.3,291.9 1297.2,320.0 1298.1,337.5 1299.2,300.0 1300.0,275.0 1301.2,330.0 1302.5,367.5 1303.5,400.0 1304.1,426.0 1305.3,366.9 1307.5,397.0 1309.0,426.0 1310.0,405.0 1310.6,368.0 1312.0,378.0 1313.0,395.0 1315.0,410.0 1316.8,438.0 1318.5,421.0 1319.5,435.0 1322.0,432.0 1323.5,405.0 1324.3,387.5 1326.0,401.0 1327.5,412.0 1329.0,395.0 1329.8,361.3 1330.6,395.0 1331.5,430.0 1333.5,428.0 1335.0,405.0 1337.0,380.0 1339.0,361.5 1340.5,373.0 1341.5,397.0 1342.5,403.0 1344.5,417.0 1346.5,395.0 1348.0,378.0 1349.2,395.0 1350.0,415.0 1351.5,400.0 1353.0,410.0 1355.0,428.0 1357.0,439.0 1358.5,413.0 1359.5,419.0 1361.0,428.0 1362.5,410.0 1364.8,388.0 1366.5,408.0 1368.5,415.0 1370.5,418.0 1372.0,400.0 1373.5,430.0 1374.5,443.0 1376.5,428.0 1378.0,414.0 1379.5,424.0 1381.0,402.0 1382.5,410.0 1384.5,428.0 1386.5,444.0 1387.5,425.0 1388.8,415.0 1390.0,423.0 1391.2,428.0 1394.0,429.0 1396.5,436.0 1398.0,433.5 1400.0,436.5 1402.0,436.5 1403.0,413.0 1403.6,405.5 1404.3,415.0 1405.5,430.0 1407.0,444.0 1408.5,431.0 1409.5,435.0 1410.5,441.0 1412.5,423.0 1414.5,420.0 1416.5,405.0 1418.2,391.2 1419.5,405.0 1421.5,430.0 1422.5,440.0 1423.5,464.0 1424.0,473.8 1424.5,440.0 1426.0,410.0 1427.5,370.5 1429.5,410.0 1430.5,430.0 1431.5,449.0 1433.0,428.0 1434.5,442.0 1436.5,436.0 1438.5,441.0 1440.0,430.0 1441.0,423.0 1442.5,443.0 1444.0,440.0 1445.0,410.0 1445.5,385.5 1446.5,385.5 1447.0,410.0 1448.5,450.0 1449.7,427.0 1451.5,451.0 1453.0,443.0 1454.5,410.0 1455.3,388.5 1456.0,410.0 1457.5,453.0 1460.5,449.0 1462.5,454.0 1464.5,415.5 1466.5,460.0 1468.5,424.0 1470.0,450.0 1471.5,442.0 1473.5,448.5 1475.5,449.5 1477.5,447.5 1479.0,449.0 1481.0,436.0 1483.0,446.0 1485.0,443.0 1487.0,438.0 1489.0,445.5 1490.5,444.5 1492.5,445.0 1494.5,452.0 1496.0,456.2" fill="none" stroke="#b99e93" stroke-width="1.5" stroke-linejoin="round" stroke-linecap="round"/>
<line x1="1516.8" y1="5" x2="1516.8" y2="483" stroke="#26c953" stroke-width="1.6"/>
<line x1="1558.3" y1="5" x2="1558.3" y2="483" stroke="#a98f86" stroke-width="1.5"/>
<g fill="#8d96b3" font-size="9">
<text transform="translate(1522.0 8.9) scale(0.89 1)">0.000001</text>
<text transform="translate(1522.0 68.5) scale(0.89 1)">0.000001</text>
<text transform="translate(1522.0 128.1) scale(0.89 1)">0.000001</text>
<text transform="translate(1522.0 187.7) scale(0.89 1)">0.000001</text>
<text transform="translate(1522.0 247.3) scale(0.89 1)">0.000001</text>
<text transform="translate(1522.0 307.1) scale(0.89 1)">0.000001</text>
<text transform="translate(1522.0 366.8) scale(0.89 1)">0</text>
<text transform="translate(1522.0 426.6) scale(0.89 1)">0</text>
<text transform="translate(1522.0 485.9) scale(0.89 1)">0</text>
<text transform="translate(1563.5 8.9) scale(0.907 1)">4.22M</text>
<text transform="translate(1563.5 99.0) scale(0.907 1)">3.37M</text>
<text transform="translate(1563.5 189.1) scale(0.907 1)">2.53M</text>
<text transform="translate(1563.5 279.2) scale(0.907 1)">1.68M</text>
<text transform="translate(1563.5 369.3) scale(0.907 1)">844K</text>
<text transform="translate(1563.5 459.4) scale(0.907 1)">0</text>
<text transform="translate(1563.5 472.8) scale(0.907 1)">-124K</text>
<text transform="translate(1563.5 485.8) scale(0.907 1)">-249K</text>
<text transform="translate(4.5 494.2) scale(0.93 1)">17 Apr 23</text>
<text transform="translate(125.5 494.2) scale(0.93 1)" text-anchor="middle">18 Apr 23</text>
<text transform="translate(251.1 494.2) scale(0.93 1)" text-anchor="middle">19 Apr 23</text>
<text transform="translate(376.7 494.2) scale(0.93 1)" text-anchor="middle">21 Apr 23</text>
<text transform="translate(502.2 494.2) scale(0.93 1)" text-anchor="middle">22 Apr 23</text>
<text transform="translate(627.8 494.2) scale(0.93 1)" text-anchor="middle">24 Apr 23</text>
<text transform="translate(753.4 494.2) scale(0.93 1)" text-anchor="middle">25 Apr 23</text>
<text transform="translate(879.0 494.2) scale(0.93 1)" text-anchor="middle">27 Apr 23</text>
<text transform="translate(1004.6 494.2) scale(0.93 1)" text-anchor="middle">28 Apr 23</text>
<text transform="translate(1130.1 494.2) scale(0.93 1)" text-anchor="middle">29 Apr 23</text>
<text transform="translate(1255.7 494.2) scale(0.93 1)" text-anchor="middle">01 May 23</text>
<text transform="translate(1381.3 494.2) scale(0.93 1)" text-anchor="middle">02 May 23</text>
<text transform="translate(1512.3 494.2) scale(0.93 1)" text-anchor="middle">03 May 23</text>
</g>
<rect x="1519" y="126" width="39.5" height="11" fill="#26c953"/>
<text x="1522" y="134.8" font-size="9" font-weight="bold" fill="#ffffff" textLength="33.5" lengthAdjust="spacingAndGlyphs">0.000001</text>
<rect x="1561" y="445.5" width="27" height="11" fill="#b39a91"/>
<text x="1563.5" y="454.3" font-size="9" font-weight="bold" fill="#ffffff" textLength="22.5" lengthAdjust="spacingAndGlyphs">46.3K</text>
<line x1="1112.9" y1="340" x2="1256.4" y2="31.4" stroke="#dacdcc" stroke-width="3.4"/>
<polygon points="1263.8,15 1248.1,27.8 1264.8,35" fill="#dacdcc"/>
<line x1="1397.5" y1="183.1" x2="1346.7" y2="30" stroke="#dcdcdc" stroke-width="3.2"/>
<polygon points="1340.3,13.1 1338.1,33.1 1355.3,26.9" fill="#dcdcdc"/>
<line x1="1396.3" y1="232.3" x2="1351.9" y2="341" stroke="#dcdcdc" stroke-width="3.2"/>
<polygon points="1344,358 1343.1,337.5 1360.6,344.4" fill="#dcdcdc"/>
<g font-size="16.6" font-weight="bold">
<text x="1039.5" y="64.3" fill="#dedede" textLength="166.5" lengthAdjust="spacingAndGlyphs">Increasing NRPL and</text>
<text x="1039.5" y="80.8" fill="#dedede" textLength="178.2" lengthAdjust="spacingAndGlyphs">surging price, all good</text>
<text x="1346.9" y="205.3" fill="#e2d4d2" textLength="193.4" lengthAdjust="spacingAndGlyphs">Next price top and much</text>
<text x="1346.9" y="221.5" fill="#e2d4d2" textLength="167.5" lengthAdjust="spacingAndGlyphs">lower NRPL, no good</text>
</g>
<line x1="1516.8" y1="190" x2="1516.8" y2="225" stroke="#26c953" stroke-width="1.6"/>
<rect x="649.4" y="516.8" width="7.6" height="7.6" fill="#26c953"/>
<rect x="743.4" y="516.8" width="7.6" height="7.6" fill="#b39a91"/>
<g font-size="11.6" fill="#e9ebf2" stroke="#e9ebf2" stroke-width="0.3">
<text x="661.2" y="524.9" textLength="66.4" lengthAdjust="spacingAndGlyphs">Price (PEPE)</text>
<text x="755.5" y="524.9" textLength="194.8" lengthAdjust="spacingAndGlyphs">Network Realized Profit/Loss (PEPE)</text>
</g>
</svg></body></html>
